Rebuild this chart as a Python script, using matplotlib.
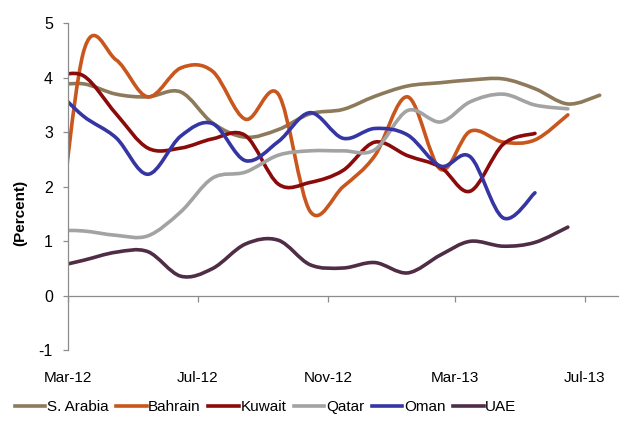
import numpy as np
import pandas as pd
import matplotlib
matplotlib.use('Agg')
from matplotlib import pyplot as plt
from matplotlib.path import Path
from matplotlib.patches import PathPatch
from matplotlib.lines import Line2D
import matplotlib.dates as mdates

plt.rcParams['font.family'] = ['Liberation Sans', 'DejaVu Sans']
plt.rcParams['axes.unicode_minus'] = False

# monthly inflation readings (percent), plotted mid-month from Feb-12
months = pd.date_range('2012-02-01', periods=18, freq='MS') + pd.Timedelta(days=14)

s_arabia = [3.85, 3.89, 3.70, 3.65, 3.74, 3.17, 2.91, 3.05, 3.34, 3.42,
            3.66, 3.85, 3.91, 3.96, 3.98, 3.80, 3.52, 3.68]
bahrain = [-0.10, 4.45, 4.33, 3.65, 4.18, 4.12, 3.24, 3.70, 1.55, 2.00,
           2.57, 3.65, 2.32, 3.02, 2.82, 2.86, 3.32]
kuwait = [4.00, 4.04, 3.34, 2.71, 2.71, 2.88, 2.94, 2.05, 2.08, 2.30,
          2.82, 2.57, 2.36, 1.92, 2.78, 2.98]
qatar = [1.20, 1.19, 1.11, 1.10, 1.54, 2.16, 2.27, 2.58, 2.66, 2.66,
         2.68, 3.40, 3.19, 3.56, 3.70, 3.50, 3.43]
oman = [3.85, 3.30, 2.90, 2.23, 2.93, 3.16, 2.48, 2.83, 3.36, 2.89,
        3.07, 2.95, 2.38, 2.55, 1.43, 1.89]
uae = [0.52, 0.65, 0.80, 0.81, 0.36, 0.50, 0.95, 1.02, 0.57, 0.51,
       0.61, 0.42, 0.75, 1.00, 0.91, 0.98, 1.26]

names = ['S. Arabia', 'Bahrain', 'Kuwait', 'Qatar', 'Oman', 'UAE']
values = [s_arabia, bahrain, kuwait, qatar, oman, uae]
colors = ['#8C7A5B', '#C9561C', '#8B0A0A', '#A3A3A3', '#3535A3', '#4F2D47']

tick_dates = pd.to_datetime(['2012-03-01', '2012-07-01', '2012-11-01',
                             '2013-03-01', '2013-07-01'])


def smooth_path(x, y):
    """Excel-like smoothed line: cubic Bezier through every point"""
    p = np.column_stack([x, y])
    pe = np.vstack([p[0], p, p[-1]])
    verts = [p[0]]
    codes = [Path.MOVETO]
    for i in range(len(p) - 1):
        verts += [p[i] + (pe[i + 2] - pe[i]) / 6,
                  p[i + 1] - (pe[i + 3] - pe[i + 1]) / 6,
                  p[i + 1]]
        codes += [Path.CURVE4] * 3
    return Path(verts, codes)


fig = plt.figure(figsize=(6.36, 4.22), dpi=100)
ax = fig.add_axes([0.1074, 0.1699, 0.8638, 0.7749])

handles = []
for name, vals, color in zip(names, values, colors):
    x = mdates.date2num(months[:len(vals)])
    patch = PathPatch(smooth_path(x, vals), fill=False, edgecolor=color,
                      lw=2.6, capstyle='round', joinstyle='round')
    ax.add_patch(patch)
    handles.append(Line2D([], [], color=color, lw=2.6, label=name))

ax.set_xlim(pd.Timestamp('2012-03-01'), pd.Timestamp('2013-08-01'))
ax.set_ylim(-1, 5)
ax.set_yticks(range(-1, 6))
ax.set_xticks(tick_dates)
ax.xaxis.set_major_formatter(mdates.DateFormatter('%b-%y'))

for side in ['top', 'right']:
    ax.spines[side].set_visible(False)
ax.spines['bottom'].set_position(('data', 0))
for side in ['left', 'bottom']:
    ax.spines[side].set_color('#8C8C8C')
    ax.spines[side].set_linewidth(0.9)

ax.tick_params(axis='x', direction='out', length=4.3, width=0.9,
               color='#8C8C8C', pad=50, labelsize=11)
ax.tick_params(axis='y', direction='out', length=3.6, width=0.9,
               color='#8C8C8C', pad=7.5, labelsize=11.5)

fig.text(20 / 636, 1 - 213 / 422, '(Percent)', rotation=90,
         ha='center', va='center', fontweight='bold', fontsize=11)

fig.legend(handles=handles, loc='center', ncol=6,
           bbox_to_anchor=(0.4175, 1 - 407 / 422), frameon=False,
           fontsize=11, handlelength=2.0, handletextpad=0.1,
           columnspacing=0.5, borderpad=0)

fig.savefig('out.png', dpi=100)
